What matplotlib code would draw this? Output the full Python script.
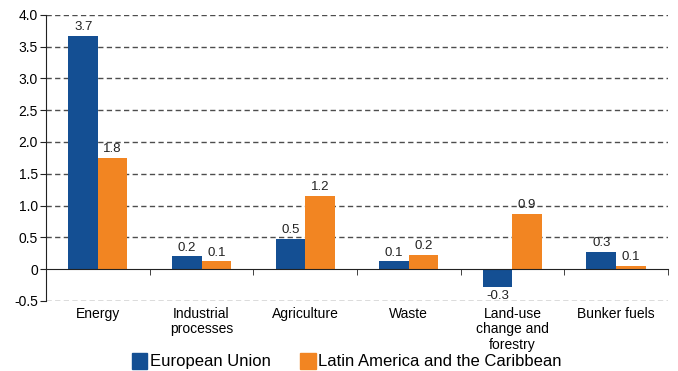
import matplotlib

matplotlib.use("Agg")
import matplotlib.pyplot as plt
import numpy as np
from matplotlib.patches import Patch

categories = ["Energy", "Industrial\nprocesses", "Agriculture", "Waste",
              "Land-use\nchange and\nforestry", "Bunker fuels"]
eu_values = [3.67, 0.20, 0.48, 0.12, -0.28, 0.27]
lac_values = [1.75, 0.12, 1.15, 0.22, 0.87, 0.05]
eu_labels = ["3.7", "0.2", "0.5", "0.1", "-0.3", "0.3"]
lac_labels = ["1.8", "0.1", "1.2", "0.2", "0.9", "0.1"]
yticks = [-0.5, 0, 0.5, 1.0, 1.5, 2.0, 2.5, 3.0, 3.5, 4.0]
ytick_labels = ["-0.5", "0", "0.5", "1.0", "1.5", "2.0", "2.5", "3.0", "3.5", "4.0"]

BLUE = "#144f93"
ORANGE = "#f28522"
plt.rcParams["font.family"] = ["Liberation Sans", "DejaVu Sans"]

fig = plt.figure(figsize=(6.78, 3.71), dpi=100)
ax = fig.add_axes([0.068, 0.189, 0.917, 0.771])

x = np.arange(len(categories))
w = 0.285
ax.bar(x - w / 2, eu_values, w, color=BLUE, zorder=3)
ax.bar(x + w / 2, lac_values, w, color=ORANGE, zorder=3)

for xi, v, lab in zip(x - w / 2, eu_values, eu_labels):
    off = 2 if v >= 0 else -2
    ax.annotate(lab, (xi, v), xytext=(0, off), textcoords="offset points",
                ha="center", va="bottom" if v >= 0 else "top", fontsize=9.5, color="#222222")
for xi, v, lab in zip(x + w / 2, lac_values, lac_labels):
    ax.annotate(lab, (xi, v), xytext=(0, 2), textcoords="offset points",
                ha="center", va="bottom", fontsize=9.5, color="#222222")

ax.set_xlim(-0.5, len(categories) - 0.5)
ax.set_ylim(-0.5, 4.0)
ax.set_yticks(yticks)
ax.set_yticklabels(ytick_labels, fontsize=10)
for y in yticks:
    if y != 0:
        ax.axhline(y, color="#4d4d4d", lw=1, ls=(0, (3.8, 2.4)), zorder=1)

ax.spines["top"].set_visible(False)
ax.spines["right"].set_visible(False)
ax.spines["bottom"].set_position(("data", 0))
ax.spines["bottom"].set_color("#222222")
ax.spines["left"].set_color("#222222")
ax.spines["bottom"].set_zorder(4)

ax.set_xticks(x)
ax.set_xticklabels(categories, fontsize=10, va="top", linespacing=1.15)
ax.set_xticks(np.arange(len(categories)) + 0.5, minor=True)
ax.tick_params(axis="x", which="major", length=0, pad=27)
ax.tick_params(axis="x", which="minor", length=4, direction="out", color="#222222")
ax.tick_params(axis="y", length=4, color="#222222", pad=2)

handles = [Patch(color=BLUE, label="European Union"),
           Patch(color=ORANGE, label="Latin America and the Caribbean")]
fig.legend(handles=handles, loc="lower left", bbox_to_anchor=(0.172, -0.036), ncol=2,
           frameon=False, fontsize=12, handlelength=0.95, handleheight=1.1,
           handletextpad=0.15, columnspacing=1.75)

fig.savefig("out.png", dpi=100)
